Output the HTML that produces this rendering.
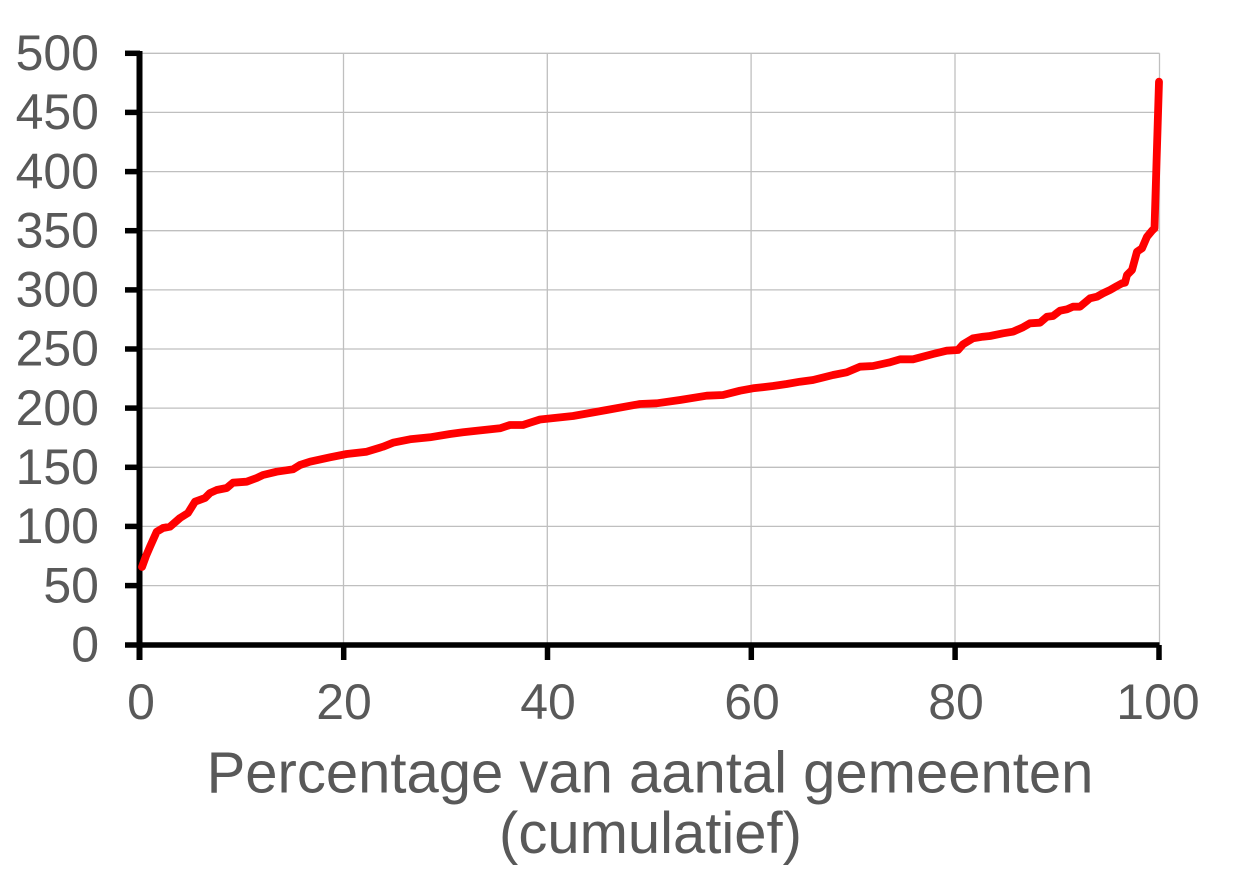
<!DOCTYPE html>
<html>
<head>
<meta charset="utf-8">
<style>
  html, body { margin: 0; padding: 0; background: #ffffff; }
  svg { display: block; }
  text { font-family: "Liberation Sans", Arial, sans-serif; fill: #595959; }
</style>
</head>
<body>
<svg width="1251" height="884" viewBox="0 0 1251 884" xmlns="http://www.w3.org/2000/svg">
  <rect x="0" y="0" width="1251" height="884" fill="#ffffff"/>
  <!-- gridlines -->
  <g stroke="#bfbfbf" stroke-width="1.3" fill="none">
    <line x1="140" y1="53.3" x2="1159.5" y2="53.3"/>
    <line x1="140" y1="112.4" x2="1159.5" y2="112.4"/>
    <line x1="140" y1="171.6" x2="1159.5" y2="171.6"/>
    <line x1="140" y1="230.7" x2="1159.5" y2="230.7"/>
    <line x1="140" y1="289.9" x2="1159.5" y2="289.9"/>
    <line x1="140" y1="349.0" x2="1159.5" y2="349.0"/>
    <line x1="140" y1="408.1" x2="1159.5" y2="408.1"/>
    <line x1="140" y1="467.3" x2="1159.5" y2="467.3"/>
    <line x1="140" y1="526.4" x2="1159.5" y2="526.4"/>
    <line x1="140" y1="585.6" x2="1159.5" y2="585.6"/>
    <line x1="343.5" y1="53.3" x2="343.5" y2="645"/>
    <line x1="547.3" y1="53.3" x2="547.3" y2="645"/>
    <line x1="751.1" y1="53.3" x2="751.1" y2="645"/>
    <line x1="955" y1="53.3" x2="955" y2="645"/>
    <line x1="1159.5" y1="53.3" x2="1159.5" y2="645"/>
  </g>
  <!-- axes -->
  <g stroke="#000000" fill="none">
    <line x1="139.5" y1="51" x2="139.5" y2="660" stroke-width="6"/>
    <line x1="125" y1="645" x2="1159.5" y2="645" stroke-width="5.5"/>
    <g stroke-width="5.5">
      <line x1="125" y1="53.3" x2="140" y2="53.3"/>
      <line x1="125" y1="112.4" x2="140" y2="112.4"/>
      <line x1="125" y1="171.6" x2="140" y2="171.6"/>
      <line x1="125" y1="230.7" x2="140" y2="230.7"/>
      <line x1="125" y1="289.9" x2="140" y2="289.9"/>
      <line x1="125" y1="349.0" x2="140" y2="349.0"/>
      <line x1="125" y1="408.1" x2="140" y2="408.1"/>
      <line x1="125" y1="467.3" x2="140" y2="467.3"/>
      <line x1="125" y1="526.4" x2="140" y2="526.4"/>
      <line x1="125" y1="585.6" x2="140" y2="585.6"/>
      <line x1="343.7" y1="645" x2="343.7" y2="660"/>
      <line x1="547.5" y1="645" x2="547.5" y2="660"/>
      <line x1="751.3" y1="645" x2="751.3" y2="660"/>
      <line x1="955.1" y1="645" x2="955.1" y2="660"/>
      <line x1="1159" y1="645" x2="1159" y2="660"/>
    </g>
  </g>
  <!-- y labels -->
  <g font-size="50" text-anchor="end">
    <text x="99" y="70">500</text>
    <text x="99" y="129.1">450</text>
    <text x="99" y="188.3">400</text>
    <text x="99" y="247.4">350</text>
    <text x="99" y="306.6">300</text>
    <text x="99" y="365.7">250</text>
    <text x="99" y="424.8">200</text>
    <text x="99" y="484">150</text>
    <text x="99" y="543.1">100</text>
    <text x="99" y="602.3">50</text>
    <text x="99" y="661.4">0</text>
  </g>
  <!-- x labels -->
  <g font-size="50" text-anchor="middle">
    <text x="141" y="719">0</text>
    <text x="344" y="719">20</text>
    <text x="548" y="719">40</text>
    <text x="752" y="719">60</text>
    <text x="956" y="719">80</text>
    <text x="1158" y="719">100</text>
  </g>
  <!-- axis title -->
  <g font-size="58" text-anchor="middle">
    <text x="650" y="792.5">Percentage van aantal gemeenten</text>
    <text x="650.5" y="853">(cumulatief)</text>
  </g>
  <!-- data line -->
  <polyline fill="none" stroke="#ff0000" stroke-width="7.8" stroke-linejoin="round" stroke-linecap="round"
    points="142,567 146,556 150,546.7 156.7,531.7 163,528 170,526.7 180,518 188,513 195,501.7 205,498 210,493 216.7,490 226.7,488 233,482.7 246.7,481.7 256.7,478 263,475 276.7,471.7 293,469.3 300,465 310,461.7 330,457.3 346.7,454 366.7,451.7 383,446.7 393,442.7 410,439.3 430,437.3 450,434 463,432.3 476.7,430.7 500,428.3 510,425 523,425 530,422.7 540,419.5 573,416 606.7,410 640,404 656.7,403.3 680,400 706.7,395.7 723,395 740,390.7 753,388.3 773,386 786.7,384 800,381.7 813,380 833,375 846.7,372.3 860,366.7 873,366 890,362.3 900,359.3 913,359.3 933,354 946.7,350.7 958,350 963,344.3 973,338.3 983,336.7 990,336 1003,333.3 1013,331.7 1023,327.3 1030,323.3 1040,322.7 1047,316.7 1053,316 1060,310.7 1067,309.3 1073,306.7 1080,306.7 1090,298.3 1097,296.7 1103,293.3 1110,290 1117,286 1122,283.3 1125,282.7 1127,275 1132,270 1137,251.7 1142,248.3 1147,236.7 1152,230.7 1154.5,228.3 1159,81.7"/>
</svg>
</body>
</html>
